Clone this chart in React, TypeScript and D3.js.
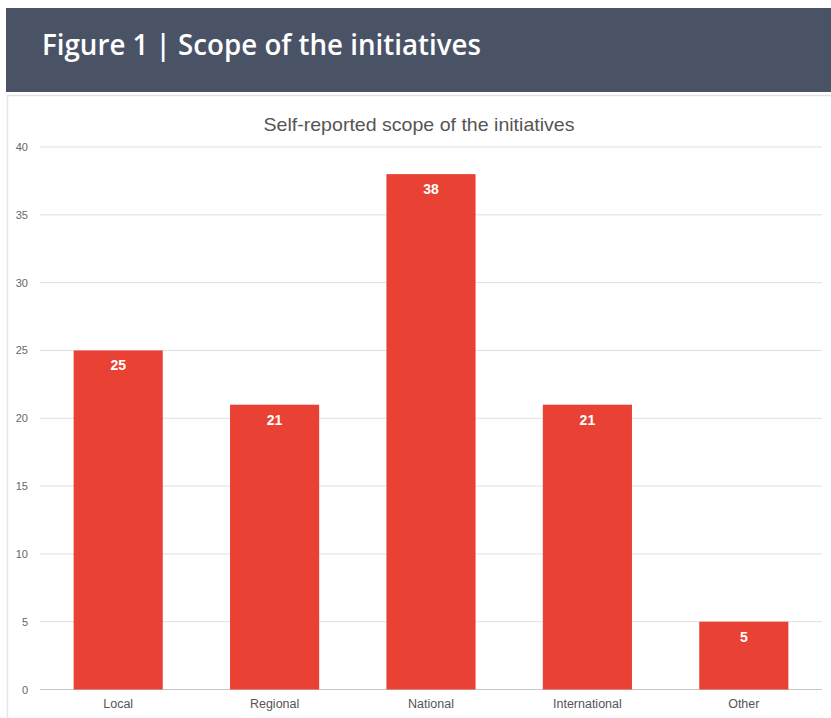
import React from "react";
import * as d3 from "d3";

const categories = ["Local", "Regional", "National", "International", "Other"];
const values = [25, 21, 38, 21, 5];
const yTicks = [0, 5, 10, 15, 20, 25, 30, 35, 40];
const headerTitle = "Figure 1 | Scope of the initiatives";
const chartTitle = "Self-reported scope of the initiatives";

const W = 831;
const H = 718;

export default function App() {
  const x = d3
    .scaleBand<string>()
    .domain(categories)
    .range([40, 822])
    .paddingInner(0.43)
    .paddingOuter(0.215);
  const y = d3.scaleLinear().domain([0, 40]).range([689.5, 147]);

  return (
    <svg
      width={W}
      height={H}
      style={{ position: "absolute", left: 0, top: 0, background: "#fff" }}
    >
      <rect x={6} y={8} width={W - 6} height={84} fill="#4a5366" />
      <text
        x={42}
        y={55}
        fill="#ffffff"
        fontFamily="'Open Sans', sans-serif"
        fontWeight={600}
        fontSize={29}
        textLength={439}
        lengthAdjust="spacingAndGlyphs"
      >
        {headerTitle}
      </text>
      <line x1={7} x2={W} y1={95.5} y2={95.5} stroke="#e2e2e2" strokeWidth={1.5} />
      <line x1={7.5} x2={7.5} y1={95} y2={H} stroke="#e6e6e6" strokeWidth={1.5} />
      <text
        x={419}
        y={131}
        textAnchor="middle"
        fill="#555"
        fontFamily="'Liberation Sans', Arial, sans-serif"
        fontSize={19}
        textLength={311}
        lengthAdjust="spacingAndGlyphs"
      >
        {chartTitle}
      </text>
      {yTicks.map((t) => (
        <g key={t}>
          <line
            x1={40}
            x2={822}
            y1={y(t)}
            y2={y(t)}
            stroke={t === 0 ? "#c8c8c8" : "#e0e0e0"}
            strokeWidth={1}
          />
          <text
            x={28}
            y={y(t) + 4}
            textAnchor="end"
            fill="#666"
            fontFamily="'Liberation Sans', Arial, sans-serif"
            fontSize={11}
          >
            {t}
          </text>
        </g>
      ))}
      {categories.map((c, i) => (
        <g key={c}>
          <rect
            x={x(c)}
            y={y(values[i])}
            width={x.bandwidth()}
            height={y(0) - y(values[i])}
            fill="#e94235"
          />
          <text
            x={(x(c) as number) + x.bandwidth() / 2}
            y={y(values[i]) + 20}
            textAnchor="middle"
            fill="#fff"
            fontWeight="bold"
            fontFamily="'Liberation Sans', Arial, sans-serif"
            fontSize={14}
          >
            {values[i]}
          </text>
          <text
            x={(x(c) as number) + x.bandwidth() / 2}
            y={708}
            textAnchor="middle"
            fill="#555"
            fontFamily="'Liberation Sans', Arial, sans-serif"
            fontSize={12.5}
          >
            {c}
          </text>
        </g>
      ))}
    </svg>
  );
}
